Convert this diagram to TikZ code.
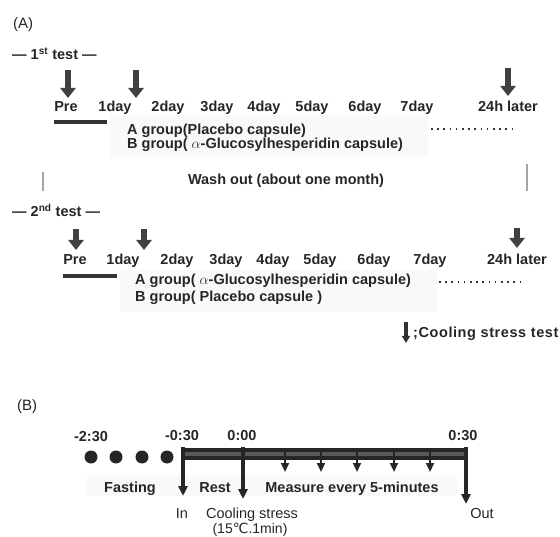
\documentclass[tikz,border=0pt]{standalone}
\usepackage{fontspec}
\setmainfont{Liberation Sans}
\newfontfamily\dejavu{DejaVu Sans}
\usetikzlibrary{arrows.meta}
\begin{document}
\begin{tikzpicture}[x=1pt,y=-1pt,
  txt/.style={font=\fontsize{14.5}{16}\selectfont\bfseries, text=black!85, inner sep=0pt, anchor=base},
  txtl/.style={txt, anchor=base west},
  reg/.style={font=\fontsize{15}{17}\selectfont, text=black!85, inner sep=0pt, anchor=base},
  bigarr/.style={line width=6pt, draw=black!75, -{Triangle[width=15pt,length=10pt]}},
  smallarr/.style={line width=4pt, draw=black!80, -{Triangle[width=8pt,length=7pt]}},
  grpline/.style={line width=3.5pt, draw=black!80},
  dotline/.style={line width=2.2pt, draw=black!80, dash pattern=on 1.6pt off 4.6pt},
  bgbox/.style={fill=black!2.5, draw=none},
  washbar/.style={line width=1.3pt, draw=black!35},
  vdown/.style={line width=3.5pt, draw=black!85, -{Triangle[width=9pt,length=10pt]}},
  tickarr/.style={line width=2.2pt, draw=black!85, -{Triangle[width=8pt,length=9pt]}},
  fdot/.style={circle, fill=black!85, minimum size=13pt, inner sep=0pt},
  bar/.style={line width=4pt, draw=black!85, double=black!65, double distance=4pt},
]
\useasboundingbox (0,0) rectangle (560,537);

% ---------------- (A) ----------------
\node[reg, anchor=base west] (labA) at (13,29) {(A)};
\node[txtl] (t1) at (12,60) {— 1\textsuperscript{st} test —};

% background boxes
\fill[bgbox] (110,115) rectangle (428,157);
\fill[bgbox] (120,270) rectangle (437,312);

% row 1 labels
\node[txt] (p1) at (66,112) {Pre};
\node[txt] (d11) at (115,112) {1day};
\node[txt] (d12) at (168,112) {2day};
\node[txt] (d13) at (217,112) {3day};
\node[txt] (d14) at (264,112) {4day};
\node[txt] (d15) at (312,112) {5day};
\node[txt] (d16) at (365,112) {6day};
\node[txt] (d17) at (417,112) {7day};
\node[txt] (l1) at (508,112) {24h later};

\coordinate (a11s) at (68,70);  \coordinate (a11e) at (68,98);
\coordinate (a12s) at (136,70); \coordinate (a12e) at (136,98);
\coordinate (a13s) at (508,68); \coordinate (a13e) at (508,96);
\draw[bigarr] (a11s) -- (a11e);
\draw[bigarr] (a12s) -- (a12e);
\draw[bigarr] (a13s) -- (a13e);

\coordinate (g1s) at (54,122); \coordinate (g1e) at (107,122);
\draw[grpline] (g1s) -- (g1e);
\node[txtl] (ga1) at (127,135) {A group(Placebo capsule)};
\node[txtl] (gb1) at (127,149) {B group( $\alpha$-Glucosylhesperidin capsule)};
\coordinate (o1s) at (431,129); \coordinate (o1e) at (517,129);
\draw[dotline] (o1s) -- (o1e);

% wash out
\coordinate (w1s) at (43,172); \coordinate (w1e) at (43,191);
\coordinate (w2s) at (527,164); \coordinate (w2e) at (527,191);
\draw[washbar] (w1s) -- (w1e);
\draw[washbar] (w2s) -- (w2e);
\node[txt] (wash) at (286,185) {Wash out (about one month)};

% 2nd test
\node[txtl] (t2) at (12,217) {— 2\textsuperscript{nd} test —};
\node[txt] (p2) at (75,265) {Pre};
\node[txt] (d21) at (123,265) {1day};
\node[txt] (d22) at (177,265) {2day};
\node[txt] (d23) at (226,265) {3day};
\node[txt] (d24) at (273,265) {4day};
\node[txt] (d25) at (320,265) {5day};
\node[txt] (d26) at (374,265) {6day};
\node[txt] (d27) at (430,265) {7day};
\node[txt] (l2) at (517,265) {24h later};

\coordinate (a21s) at (76,229);  \coordinate (a21e) at (76,250);
\coordinate (a22s) at (144,229); \coordinate (a22e) at (144,250);
\coordinate (a23s) at (517,228); \coordinate (a23e) at (517,248);
\draw[bigarr] (a21s) -- (a21e);
\draw[bigarr] (a22s) -- (a22e);
\draw[bigarr] (a23s) -- (a23e);

\coordinate (g2s) at (63,276); \coordinate (g2e) at (117,276);
\draw[grpline] (g2s) -- (g2e);
\node[txtl] (ga2) at (135,285) {A group( $\alpha$-Glucosylhesperidin capsule)};
\node[txtl] (gb2) at (135,302) {B group( Placebo capsule )};
\coordinate (o2s) at (439,282); \coordinate (o2e) at (525,282);
\draw[dotline] (o2s) -- (o2e);

% legend
\coordinate (lgs) at (406,322); \coordinate (lge) at (406,343);
\draw[smallarr] (lgs) -- (lge);
\node[txtl, font=\fontsize{14.5}{16}\selectfont\bfseries\addfontfeature{LetterSpace=4}] (lgt) at (413,338) {;Cooling stress test};

% ---------------- (B) ----------------
\node[reg, anchor=base west] (labB) at (17,411) {(B)};

\fill[bgbox] (87,475) rectangle (457,496);

\node[txt] (m230) at (91,442) {-2:30};
\node[txt] (m030) at (182,441) {-0:30};
\node[txt] (z000) at (242,441) {0:00};
\node[txt] (p030) at (463,440) {0:30};

\node[fdot] (f1) at (91,457) {};
\node[fdot] (f2) at (116,457) {};
\node[fdot] (f3) at (142,457) {};
\node[fdot] (f4) at (167,457) {};

\coordinate (bs) at (183,454); \coordinate (be) at (466,454);
\draw[bar] (bs) -- (be);

\coordinate (v1s) at (183,447); \coordinate (v1e) at (183,496);
\coordinate (v2s) at (243,447); \coordinate (v2e) at (243,499);
\coordinate (v3s) at (466,447); \coordinate (v3e) at (466,504);
\draw[vdown] (v1s) -- (v1e);
\draw[vdown] (v2s) -- (v2e);
\draw[vdown] (v3s) -- (v3e);

\foreach \i/\x in {1/285,2/321,3/357,4/394,5/430}{
  \coordinate (k\i s) at (\x,452);
  \coordinate (k\i e) at (\x,472);
  \draw[tickarr] (k\i s) -- (k\i e);
}

\node[txt] (fast) at (130,492) {Fasting};
\node[txt] (rest) at (215,492) {Rest};
\node[txt] (meas) at (352,492) {Measure every 5-minutes};

\node[reg, font=\fontsize{14.5}{16}\selectfont] (in) at (182,518) {In};
\node[reg, font=\fontsize{14.5}{16}\selectfont] (cool) at (252,518) {Cooling stress};
\node[reg, font=\fontsize{14}{16}\selectfont] (temp) at (250,533) {(15{\dejavu ℃}.1min)};
\node[reg, font=\fontsize{14.5}{16}\selectfont] (out) at (482,518) {Out};
\end{tikzpicture}
\end{document}
